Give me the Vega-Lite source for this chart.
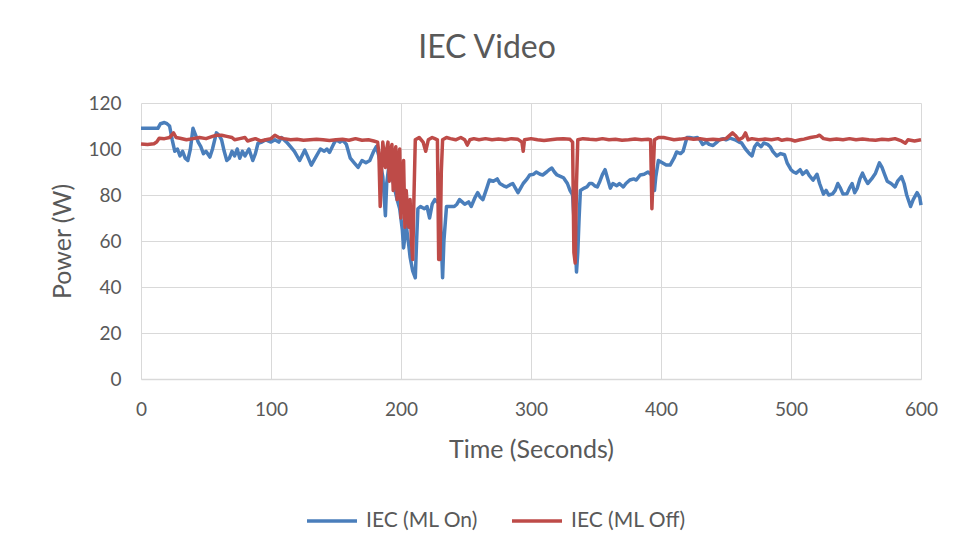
{
  "$schema": "https://vega.github.io/schema/vega-lite/v6.json",
  "width": 780,
  "height": 276,
  "autosize": {"type": "none"},
  "padding": {"left": 141, "top": 103, "right": 41, "bottom": 177},
  "background": "white",
  "title": {"text": "IEC Video", "font": "Lato", "fontSize": 32, "fontWeight": "normal", "color": "#595959", "offset": 29, "anchor": "middle", "dx": -44},
  "config": {
    "view": {"stroke": null},
    "font": "Lato",
    "axis": {"labelFont": "Lato", "titleFont": "Lato", "labelColor": "#595959", "titleColor": "#595959", "labelFontSize": 19, "titleFontSize": 25, "titleFontWeight": "normal", "gridColor": "#d9d9d9", "gridWidth": 1, "ticks": false, "labelFlush": false},
    "legend": {"labelFont": "Lato", "labelColor": "#595959", "labelFontSize": 21}
  },
  "data": {"values": [
    {"s":"IEC (ML On)","t":0,"p":109},{"s":"IEC (ML On)","t":5,"p":109},{"s":"IEC (ML On)","t":10,"p":109},{"s":"IEC (ML On)","t":13,"p":109},{"s":"IEC (ML On)","t":15,"p":111},{"s":"IEC (ML On)","t":18,"p":111.5},{"s":"IEC (ML On)","t":20,"p":111},{"s":"IEC (ML On)","t":22,"p":110},{"s":"IEC (ML On)","t":24,"p":104},{"s":"IEC (ML On)","t":26,"p":99},{"s":"IEC (ML On)","t":28,"p":100},{"s":"IEC (ML On)","t":30,"p":97},{"s":"IEC (ML On)","t":32,"p":99},{"s":"IEC (ML On)","t":34,"p":96},{"s":"IEC (ML On)","t":36,"p":95},{"s":"IEC (ML On)","t":38,"p":100},{"s":"IEC (ML On)","t":40,"p":109},{"s":"IEC (ML On)","t":42,"p":106},{"s":"IEC (ML On)","t":44,"p":103},{"s":"IEC (ML On)","t":46,"p":101},{"s":"IEC (ML On)","t":48,"p":98},{"s":"IEC (ML On)","t":50,"p":99},{"s":"IEC (ML On)","t":53,"p":96.5},{"s":"IEC (ML On)","t":55,"p":100},{"s":"IEC (ML On)","t":58,"p":107},{"s":"IEC (ML On)","t":60,"p":106},{"s":"IEC (ML On)","t":62,"p":104},{"s":"IEC (ML On)","t":64,"p":99},{"s":"IEC (ML On)","t":66,"p":95},{"s":"IEC (ML On)","t":68,"p":96},{"s":"IEC (ML On)","t":70,"p":99},{"s":"IEC (ML On)","t":72,"p":97},{"s":"IEC (ML On)","t":74,"p":100},{"s":"IEC (ML On)","t":76,"p":96},{"s":"IEC (ML On)","t":78,"p":99},{"s":"IEC (ML On)","t":80,"p":97},{"s":"IEC (ML On)","t":83,"p":100},{"s":"IEC (ML On)","t":86,"p":95},{"s":"IEC (ML On)","t":88,"p":98},{"s":"IEC (ML On)","t":90,"p":102.5},{"s":"IEC (ML On)","t":93,"p":103},{"s":"IEC (ML On)","t":96,"p":104},{"s":"IEC (ML On)","t":100,"p":103},{"s":"IEC (ML On)","t":103,"p":104},{"s":"IEC (ML On)","t":106,"p":103},{"s":"IEC (ML On)","t":108,"p":105},{"s":"IEC (ML On)","t":112,"p":103},{"s":"IEC (ML On)","t":115,"p":101},{"s":"IEC (ML On)","t":118,"p":99},{"s":"IEC (ML On)","t":122,"p":95},{"s":"IEC (ML On)","t":126,"p":99.5},{"s":"IEC (ML On)","t":128,"p":97},{"s":"IEC (ML On)","t":131,"p":93},{"s":"IEC (ML On)","t":134,"p":96},{"s":"IEC (ML On)","t":138,"p":100},{"s":"IEC (ML On)","t":141,"p":99},{"s":"IEC (ML On)","t":143,"p":100},{"s":"IEC (ML On)","t":145,"p":98.5},{"s":"IEC (ML On)","t":148,"p":102},{"s":"IEC (ML On)","t":150,"p":104},{"s":"IEC (ML On)","t":153,"p":103},{"s":"IEC (ML On)","t":155,"p":104},{"s":"IEC (ML On)","t":158,"p":102},{"s":"IEC (ML On)","t":161,"p":96},{"s":"IEC (ML On)","t":164,"p":94},{"s":"IEC (ML On)","t":167,"p":92},{"s":"IEC (ML On)","t":170,"p":95},{"s":"IEC (ML On)","t":173,"p":94},{"s":"IEC (ML On)","t":176,"p":95},{"s":"IEC (ML On)","t":179,"p":99},{"s":"IEC (ML On)","t":181,"p":101},{"s":"IEC (ML On)","t":183,"p":97},{"s":"IEC (ML On)","t":184,"p":94},{"s":"IEC (ML On)","t":186,"p":88},{"s":"IEC (ML On)","t":188,"p":71},{"s":"IEC (ML On)","t":189,"p":85},{"s":"IEC (ML On)","t":191,"p":94},{"s":"IEC (ML On)","t":193,"p":88},{"s":"IEC (ML On)","t":195,"p":83},{"s":"IEC (ML On)","t":197,"p":78},{"s":"IEC (ML On)","t":199,"p":74},{"s":"IEC (ML On)","t":201,"p":65},{"s":"IEC (ML On)","t":202,"p":57},{"s":"IEC (ML On)","t":204,"p":67},{"s":"IEC (ML On)","t":206,"p":58},{"s":"IEC (ML On)","t":207,"p":53},{"s":"IEC (ML On)","t":209,"p":47},{"s":"IEC (ML On)","t":211,"p":44},{"s":"IEC (ML On)","t":212,"p":60},{"s":"IEC (ML On)","t":213,"p":74},{"s":"IEC (ML On)","t":215,"p":75},{"s":"IEC (ML On)","t":218,"p":74},{"s":"IEC (ML On)","t":220,"p":75},{"s":"IEC (ML On)","t":222,"p":70},{"s":"IEC (ML On)","t":224,"p":76},{"s":"IEC (ML On)","t":226,"p":78},{"s":"IEC (ML On)","t":228,"p":77},{"s":"IEC (ML On)","t":230,"p":78},{"s":"IEC (ML On)","t":231,"p":60},{"s":"IEC (ML On)","t":232,"p":44},{"s":"IEC (ML On)","t":233,"p":60},{"s":"IEC (ML On)","t":235,"p":75},{"s":"IEC (ML On)","t":238,"p":75},{"s":"IEC (ML On)","t":241,"p":75},{"s":"IEC (ML On)","t":243,"p":76},{"s":"IEC (ML On)","t":245,"p":78},{"s":"IEC (ML On)","t":247,"p":77},{"s":"IEC (ML On)","t":249,"p":76},{"s":"IEC (ML On)","t":252,"p":77},{"s":"IEC (ML On)","t":254,"p":75},{"s":"IEC (ML On)","t":257,"p":79},{"s":"IEC (ML On)","t":259,"p":81},{"s":"IEC (ML On)","t":261,"p":79},{"s":"IEC (ML On)","t":263,"p":78},{"s":"IEC (ML On)","t":266,"p":83},{"s":"IEC (ML On)","t":268,"p":86.5},{"s":"IEC (ML On)","t":271,"p":86},{"s":"IEC (ML On)","t":274,"p":87},{"s":"IEC (ML On)","t":276,"p":85},{"s":"IEC (ML On)","t":279,"p":84},{"s":"IEC (ML On)","t":281,"p":83.5},{"s":"IEC (ML On)","t":284,"p":84.5},{"s":"IEC (ML On)","t":286,"p":85},{"s":"IEC (ML On)","t":288,"p":83},{"s":"IEC (ML On)","t":290,"p":81},{"s":"IEC (ML On)","t":292,"p":83},{"s":"IEC (ML On)","t":294,"p":85},{"s":"IEC (ML On)","t":297,"p":87},{"s":"IEC (ML On)","t":299,"p":88.7},{"s":"IEC (ML On)","t":302,"p":89},{"s":"IEC (ML On)","t":304,"p":90},{"s":"IEC (ML On)","t":307,"p":89},{"s":"IEC (ML On)","t":309,"p":88.7},{"s":"IEC (ML On)","t":312,"p":90},{"s":"IEC (ML On)","t":314,"p":91},{"s":"IEC (ML On)","t":316,"p":91.7},{"s":"IEC (ML On)","t":318,"p":90},{"s":"IEC (ML On)","t":320,"p":88.7},{"s":"IEC (ML On)","t":323,"p":88},{"s":"IEC (ML On)","t":325,"p":87.5},{"s":"IEC (ML On)","t":328,"p":85},{"s":"IEC (ML On)","t":330,"p":82},{"s":"IEC (ML On)","t":332,"p":80},{"s":"IEC (ML On)","t":334,"p":60},{"s":"IEC (ML On)","t":335,"p":46.5},{"s":"IEC (ML On)","t":336,"p":55},{"s":"IEC (ML On)","t":337,"p":70},{"s":"IEC (ML On)","t":338,"p":82},{"s":"IEC (ML On)","t":341,"p":83},{"s":"IEC (ML On)","t":343,"p":83.5},{"s":"IEC (ML On)","t":345,"p":85},{"s":"IEC (ML On)","t":347,"p":85},{"s":"IEC (ML On)","t":349,"p":84},{"s":"IEC (ML On)","t":351,"p":83.5},{"s":"IEC (ML On)","t":353,"p":86},{"s":"IEC (ML On)","t":355,"p":89},{"s":"IEC (ML On)","t":357,"p":91},{"s":"IEC (ML On)","t":359,"p":87},{"s":"IEC (ML On)","t":361,"p":83},{"s":"IEC (ML On)","t":363,"p":85},{"s":"IEC (ML On)","t":366,"p":84},{"s":"IEC (ML On)","t":368,"p":85},{"s":"IEC (ML On)","t":371,"p":83.5},{"s":"IEC (ML On)","t":373,"p":85},{"s":"IEC (ML On)","t":376,"p":86.5},{"s":"IEC (ML On)","t":379,"p":87},{"s":"IEC (ML On)","t":381,"p":86.5},{"s":"IEC (ML On)","t":384,"p":88.7},{"s":"IEC (ML On)","t":387,"p":89},{"s":"IEC (ML On)","t":390,"p":90},{"s":"IEC (ML On)","t":392,"p":89},{"s":"IEC (ML On)","t":394,"p":90},{"s":"IEC (ML On)","t":395,"p":82},{"s":"IEC (ML On)","t":396,"p":88},{"s":"IEC (ML On)","t":398,"p":95},{"s":"IEC (ML On)","t":401,"p":94},{"s":"IEC (ML On)","t":404,"p":93},{"s":"IEC (ML On)","t":407,"p":93},{"s":"IEC (ML On)","t":410,"p":96},{"s":"IEC (ML On)","t":412,"p":98.7},{"s":"IEC (ML On)","t":415,"p":98},{"s":"IEC (ML On)","t":417,"p":99},{"s":"IEC (ML On)","t":419,"p":103},{"s":"IEC (ML On)","t":420,"p":105},{"s":"IEC (ML On)","t":422,"p":105},{"s":"IEC (ML On)","t":425,"p":104.7},{"s":"IEC (ML On)","t":428,"p":105},{"s":"IEC (ML On)","t":430,"p":104},{"s":"IEC (ML On)","t":432,"p":102},{"s":"IEC (ML On)","t":435,"p":103},{"s":"IEC (ML On)","t":437,"p":102},{"s":"IEC (ML On)","t":440,"p":101.5},{"s":"IEC (ML On)","t":443,"p":103},{"s":"IEC (ML On)","t":445,"p":104},{"s":"IEC (ML On)","t":448,"p":104.5},{"s":"IEC (ML On)","t":450,"p":104},{"s":"IEC (ML On)","t":453,"p":104.7},{"s":"IEC (ML On)","t":457,"p":104},{"s":"IEC (ML On)","t":460,"p":103},{"s":"IEC (ML On)","t":462,"p":102.6},{"s":"IEC (ML On)","t":465,"p":100},{"s":"IEC (ML On)","t":468,"p":98},{"s":"IEC (ML On)","t":470,"p":97},{"s":"IEC (ML On)","t":472,"p":101},{"s":"IEC (ML On)","t":474,"p":102.5},{"s":"IEC (ML On)","t":477,"p":101},{"s":"IEC (ML On)","t":479,"p":102.6},{"s":"IEC (ML On)","t":482,"p":102},{"s":"IEC (ML On)","t":484,"p":101},{"s":"IEC (ML On)","t":486,"p":99},{"s":"IEC (ML On)","t":489,"p":97},{"s":"IEC (ML On)","t":492,"p":98},{"s":"IEC (ML On)","t":495,"p":97.5},{"s":"IEC (ML On)","t":497,"p":94},{"s":"IEC (ML On)","t":500,"p":91},{"s":"IEC (ML On)","t":502,"p":90},{"s":"IEC (ML On)","t":504,"p":89.5},{"s":"IEC (ML On)","t":507,"p":91},{"s":"IEC (ML On)","t":509,"p":89},{"s":"IEC (ML On)","t":512,"p":90.5},{"s":"IEC (ML On)","t":514,"p":88.5},{"s":"IEC (ML On)","t":517,"p":86.5},{"s":"IEC (ML On)","t":520,"p":89},{"s":"IEC (ML On)","t":522,"p":85},{"s":"IEC (ML On)","t":525,"p":80.4},{"s":"IEC (ML On)","t":527,"p":82},{"s":"IEC (ML On)","t":529,"p":80},{"s":"IEC (ML On)","t":532,"p":80.5},{"s":"IEC (ML On)","t":534,"p":82},{"s":"IEC (ML On)","t":536,"p":85},{"s":"IEC (ML On)","t":538,"p":83},{"s":"IEC (ML On)","t":540,"p":80.4},{"s":"IEC (ML On)","t":543,"p":80.5},{"s":"IEC (ML On)","t":545,"p":83},{"s":"IEC (ML On)","t":547,"p":85},{"s":"IEC (ML On)","t":549,"p":81},{"s":"IEC (ML On)","t":551,"p":83},{"s":"IEC (ML On)","t":553,"p":87},{"s":"IEC (ML On)","t":555,"p":89.5},{"s":"IEC (ML On)","t":557,"p":87},{"s":"IEC (ML On)","t":559,"p":85},{"s":"IEC (ML On)","t":562,"p":87},{"s":"IEC (ML On)","t":565,"p":89.5},{"s":"IEC (ML On)","t":568,"p":94},{"s":"IEC (ML On)","t":570,"p":92},{"s":"IEC (ML On)","t":572,"p":89},{"s":"IEC (ML On)","t":574,"p":86},{"s":"IEC (ML On)","t":577,"p":85},{"s":"IEC (ML On)","t":580,"p":83.5},{"s":"IEC (ML On)","t":582,"p":86},{"s":"IEC (ML On)","t":585,"p":88},{"s":"IEC (ML On)","t":587,"p":85},{"s":"IEC (ML On)","t":589,"p":80},{"s":"IEC (ML On)","t":592,"p":75},{"s":"IEC (ML On)","t":594,"p":78},{"s":"IEC (ML On)","t":597,"p":81},{"s":"IEC (ML On)","t":599,"p":79},{"s":"IEC (ML On)","t":600,"p":75.6},
    {"s":"IEC (ML Off)","t":0,"p":102.2},{"s":"IEC (ML Off)","t":5,"p":102},{"s":"IEC (ML Off)","t":10,"p":102.3},{"s":"IEC (ML Off)","t":12,"p":103},{"s":"IEC (ML Off)","t":14,"p":104.7},{"s":"IEC (ML Off)","t":18,"p":104.5},{"s":"IEC (ML Off)","t":22,"p":105},{"s":"IEC (ML Off)","t":25,"p":107},{"s":"IEC (ML Off)","t":27,"p":105},{"s":"IEC (ML Off)","t":30,"p":104.7},{"s":"IEC (ML Off)","t":35,"p":104},{"s":"IEC (ML Off)","t":40,"p":104.5},{"s":"IEC (ML Off)","t":45,"p":105},{"s":"IEC (ML Off)","t":50,"p":104.5},{"s":"IEC (ML Off)","t":55,"p":105.5},{"s":"IEC (ML Off)","t":58,"p":106},{"s":"IEC (ML Off)","t":62,"p":106},{"s":"IEC (ML Off)","t":66,"p":105.5},{"s":"IEC (ML Off)","t":70,"p":105},{"s":"IEC (ML Off)","t":72,"p":104},{"s":"IEC (ML Off)","t":76,"p":104.5},{"s":"IEC (ML Off)","t":80,"p":105},{"s":"IEC (ML Off)","t":82,"p":103.5},{"s":"IEC (ML Off)","t":85,"p":104},{"s":"IEC (ML Off)","t":88,"p":104.5},{"s":"IEC (ML Off)","t":92,"p":103.5},{"s":"IEC (ML Off)","t":96,"p":104},{"s":"IEC (ML Off)","t":100,"p":104.5},{"s":"IEC (ML Off)","t":103,"p":106},{"s":"IEC (ML Off)","t":106,"p":105},{"s":"IEC (ML Off)","t":110,"p":104.5},{"s":"IEC (ML Off)","t":115,"p":104},{"s":"IEC (ML Off)","t":120,"p":104.2},{"s":"IEC (ML Off)","t":125,"p":103.8},{"s":"IEC (ML Off)","t":130,"p":104},{"s":"IEC (ML Off)","t":135,"p":104.2},{"s":"IEC (ML Off)","t":140,"p":104},{"s":"IEC (ML Off)","t":145,"p":103.7},{"s":"IEC (ML Off)","t":150,"p":104},{"s":"IEC (ML Off)","t":155,"p":104.2},{"s":"IEC (ML Off)","t":160,"p":103.8},{"s":"IEC (ML Off)","t":165,"p":104.5},{"s":"IEC (ML Off)","t":170,"p":103.8},{"s":"IEC (ML Off)","t":175,"p":104},{"s":"IEC (ML Off)","t":179,"p":103.5},{"s":"IEC (ML Off)","t":182,"p":103},{"s":"IEC (ML Off)","t":183,"p":98},{"s":"IEC (ML Off)","t":184,"p":75},{"s":"IEC (ML Off)","t":185,"p":90},{"s":"IEC (ML Off)","t":186,"p":103},{"s":"IEC (ML Off)","t":188,"p":92},{"s":"IEC (ML Off)","t":189,"p":100},{"s":"IEC (ML Off)","t":190,"p":103},{"s":"IEC (ML Off)","t":191,"p":86},{"s":"IEC (ML Off)","t":192,"p":98},{"s":"IEC (ML Off)","t":193,"p":102},{"s":"IEC (ML Off)","t":194,"p":82},{"s":"IEC (ML Off)","t":195,"p":97},{"s":"IEC (ML Off)","t":196,"p":101},{"s":"IEC (ML Off)","t":197,"p":78},{"s":"IEC (ML Off)","t":198,"p":96},{"s":"IEC (ML Off)","t":199,"p":100},{"s":"IEC (ML Off)","t":200,"p":70},{"s":"IEC (ML Off)","t":201,"p":88},{"s":"IEC (ML Off)","t":202,"p":95},{"s":"IEC (ML Off)","t":203,"p":66},{"s":"IEC (ML Off)","t":204,"p":82},{"s":"IEC (ML Off)","t":205,"p":74},{"s":"IEC (ML Off)","t":206,"p":66},{"s":"IEC (ML Off)","t":207,"p":78},{"s":"IEC (ML Off)","t":208,"p":60},{"s":"IEC (ML Off)","t":209,"p":52},{"s":"IEC (ML Off)","t":210,"p":80},{"s":"IEC (ML Off)","t":211,"p":104},{"s":"IEC (ML Off)","t":214,"p":105},{"s":"IEC (ML Off)","t":217,"p":103},{"s":"IEC (ML Off)","t":219,"p":99},{"s":"IEC (ML Off)","t":221,"p":104},{"s":"IEC (ML Off)","t":224,"p":105},{"s":"IEC (ML Off)","t":226,"p":104.5},{"s":"IEC (ML Off)","t":228,"p":104},{"s":"IEC (ML Off)","t":229,"p":52},{"s":"IEC (ML Off)","t":230,"p":52},{"s":"IEC (ML Off)","t":231,"p":90},{"s":"IEC (ML Off)","t":232,"p":104},{"s":"IEC (ML Off)","t":235,"p":105},{"s":"IEC (ML Off)","t":238,"p":104.5},{"s":"IEC (ML Off)","t":242,"p":104},{"s":"IEC (ML Off)","t":246,"p":105},{"s":"IEC (ML Off)","t":249,"p":104},{"s":"IEC (ML Off)","t":251,"p":101.7},{"s":"IEC (ML Off)","t":253,"p":104},{"s":"IEC (ML Off)","t":256,"p":104.5},{"s":"IEC (ML Off)","t":260,"p":104},{"s":"IEC (ML Off)","t":265,"p":104.5},{"s":"IEC (ML Off)","t":270,"p":104},{"s":"IEC (ML Off)","t":275,"p":104.3},{"s":"IEC (ML Off)","t":280,"p":104},{"s":"IEC (ML Off)","t":285,"p":104.5},{"s":"IEC (ML Off)","t":290,"p":104.2},{"s":"IEC (ML Off)","t":293,"p":103},{"s":"IEC (ML Off)","t":294,"p":99},{"s":"IEC (ML Off)","t":295,"p":104},{"s":"IEC (ML Off)","t":300,"p":104.5},{"s":"IEC (ML Off)","t":305,"p":104},{"s":"IEC (ML Off)","t":310,"p":103.7},{"s":"IEC (ML Off)","t":315,"p":104},{"s":"IEC (ML Off)","t":320,"p":104.3},{"s":"IEC (ML Off)","t":325,"p":104.5},{"s":"IEC (ML Off)","t":330,"p":104.2},{"s":"IEC (ML Off)","t":332,"p":103},{"s":"IEC (ML Off)","t":333,"p":55},{"s":"IEC (ML Off)","t":334,"p":50.4},{"s":"IEC (ML Off)","t":335,"p":85},{"s":"IEC (ML Off)","t":336,"p":104},{"s":"IEC (ML Off)","t":340,"p":104.5},{"s":"IEC (ML Off)","t":345,"p":104.2},{"s":"IEC (ML Off)","t":350,"p":104},{"s":"IEC (ML Off)","t":355,"p":104.5},{"s":"IEC (ML Off)","t":360,"p":104},{"s":"IEC (ML Off)","t":365,"p":104.2},{"s":"IEC (ML Off)","t":370,"p":103.8},{"s":"IEC (ML Off)","t":375,"p":104},{"s":"IEC (ML Off)","t":380,"p":104.3},{"s":"IEC (ML Off)","t":385,"p":104},{"s":"IEC (ML Off)","t":390,"p":104.2},{"s":"IEC (ML Off)","t":392,"p":104},{"s":"IEC (ML Off)","t":393,"p":74},{"s":"IEC (ML Off)","t":394,"p":90},{"s":"IEC (ML Off)","t":395,"p":104},{"s":"IEC (ML Off)","t":398,"p":105},{"s":"IEC (ML Off)","t":402,"p":105},{"s":"IEC (ML Off)","t":406,"p":104.5},{"s":"IEC (ML Off)","t":410,"p":104},{"s":"IEC (ML Off)","t":415,"p":104.3},{"s":"IEC (ML Off)","t":420,"p":104.7},{"s":"IEC (ML Off)","t":425,"p":104.2},{"s":"IEC (ML Off)","t":430,"p":104.5},{"s":"IEC (ML Off)","t":435,"p":104},{"s":"IEC (ML Off)","t":440,"p":104.2},{"s":"IEC (ML Off)","t":445,"p":104},{"s":"IEC (ML Off)","t":450,"p":104.5},{"s":"IEC (ML Off)","t":455,"p":107},{"s":"IEC (ML Off)","t":457,"p":106},{"s":"IEC (ML Off)","t":460,"p":104},{"s":"IEC (ML Off)","t":463,"p":105},{"s":"IEC (ML Off)","t":465,"p":107},{"s":"IEC (ML Off)","t":467,"p":104},{"s":"IEC (ML Off)","t":470,"p":104.5},{"s":"IEC (ML Off)","t":475,"p":104},{"s":"IEC (ML Off)","t":480,"p":104.3},{"s":"IEC (ML Off)","t":485,"p":104},{"s":"IEC (ML Off)","t":490,"p":104.5},{"s":"IEC (ML Off)","t":493,"p":103.8},{"s":"IEC (ML Off)","t":497,"p":104.2},{"s":"IEC (ML Off)","t":500,"p":104},{"s":"IEC (ML Off)","t":503,"p":103.5},{"s":"IEC (ML Off)","t":507,"p":104},{"s":"IEC (ML Off)","t":510,"p":104.3},{"s":"IEC (ML Off)","t":515,"p":105},{"s":"IEC (ML Off)","t":520,"p":105.5},{"s":"IEC (ML Off)","t":522,"p":106},{"s":"IEC (ML Off)","t":525,"p":104.5},{"s":"IEC (ML Off)","t":530,"p":104},{"s":"IEC (ML Off)","t":535,"p":104.3},{"s":"IEC (ML Off)","t":540,"p":104},{"s":"IEC (ML Off)","t":545,"p":104.5},{"s":"IEC (ML Off)","t":550,"p":104},{"s":"IEC (ML Off)","t":555,"p":104.3},{"s":"IEC (ML Off)","t":560,"p":104},{"s":"IEC (ML Off)","t":565,"p":103.8},{"s":"IEC (ML Off)","t":570,"p":104.2},{"s":"IEC (ML Off)","t":575,"p":104},{"s":"IEC (ML Off)","t":580,"p":104.5},{"s":"IEC (ML Off)","t":585,"p":103.5},{"s":"IEC (ML Off)","t":588,"p":102.5},{"s":"IEC (ML Off)","t":590,"p":104},{"s":"IEC (ML Off)","t":595,"p":103.5},{"s":"IEC (ML Off)","t":600,"p":104}
  ]},
  "encoding": {
    "x": {"field": "t", "type": "quantitative", "title": "Time (Seconds)", "scale": {"domain": [0, 600], "nice": false}, "axis": {"values": [0, 100, 200, 300, 400, 500, 600], "labelPadding": 21, "titlePadding": 18, "domain": true, "domainColor": "#d9d9d9", "domainWidth": 1.5}},
    "y": {"field": "p", "type": "quantitative", "title": "Power (W)", "scale": {"domain": [0, 120], "nice": false}, "axis": {"values": [0, 20, 40, 60, 80, 100, 120], "labelPadding": 20, "titlePadding": 12, "domain": false}},
    "color": {"field": "s", "type": "nominal", "title": null, "scale": {"domain": ["IEC (ML On)", "IEC (ML Off)"], "range": ["#4a7ebb", "#be4b48"]}, "legend": {"orient": "none", "direction": "horizontal", "legendX": 164, "legendY": 391, "symbolType": "stroke", "symbolSize": 2500, "symbolStrokeWidth": 3.5, "labelOffset": 7, "columnPadding": 27}}
  },
  "layer": [
    {"transform": [{"filter": "datum.s === 'IEC (ML On)'"}], "mark": {"type": "line", "strokeWidth": 3.5, "strokeJoin": "round"}},
    {"transform": [{"filter": "datum.s === 'IEC (ML Off)'"}], "mark": {"type": "line", "strokeWidth": 3.5, "strokeJoin": "round"}}
  ]
}
